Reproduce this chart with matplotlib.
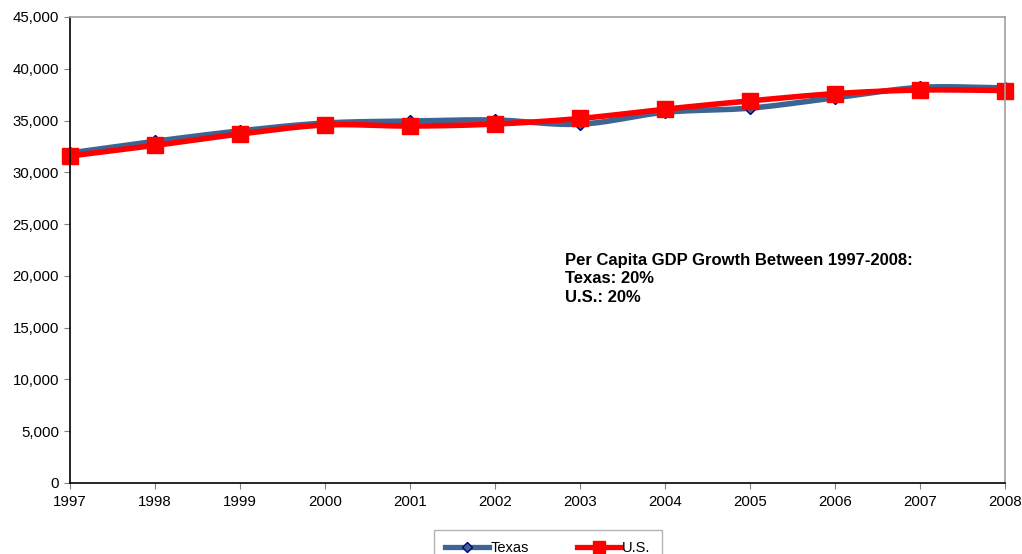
import numpy as np
import matplotlib
matplotlib.use("Agg")
import matplotlib.pyplot as plt
from matplotlib.lines import Line2D

years = [1997, 1998, 1999, 2000, 2001, 2002, 2003, 2004, 2005, 2006, 2007, 2008]
texas = [31870, 33000, 34000, 34760, 34950, 35050, 34650, 35800, 36200, 37200, 38200, 38150]
us = [31580, 32600, 33700, 34570, 34470, 34660, 35200, 36100, 36900, 37600, 37950, 37900]
y_ticks = list(range(0, 45001, 5000))
note_lines = ["Per Capita GDP Growth Between 1997-2008:", "Texas: 20%", "U.S.: 20%"]

plt.rcParams['font.family'] = ['Liberation Sans', 'DejaVu Sans']


def smooth(xs, ys, n=20):
    """Catmull-Rom curve through the points, for a smoothed line rendering."""
    x = np.asarray(xs, float)
    y = np.asarray(ys, float)
    px = np.concatenate([[2 * x[0] - x[1]], x, [2 * x[-1] - x[-2]]])
    py = np.concatenate([[2 * y[0] - y[1]], y, [2 * y[-1] - y[-2]]])
    ox, oy = [], []
    t = np.linspace(0, 1, n, endpoint=False)
    for i in range(1, len(px) - 2):
        for P, out in ((px, ox), (py, oy)):
            p0, p1, p2, p3 = P[i - 1], P[i], P[i + 1], P[i + 2]
            out.extend(0.5 * ((2 * p1) + (-p0 + p2) * t
                              + (2 * p0 - 5 * p1 + 4 * p2 - p3) * t ** 2
                              + (-p0 + 3 * p1 - 3 * p2 + p3) * t ** 3))
    ox.append(x[-1])
    oy.append(y[-1])
    return np.array(ox), np.array(oy)


W, H = 1022, 554
fig = plt.figure(figsize=(W / 100, H / 100), dpi=100)
ax = fig.add_axes([70 / W, (H - 483) / H, (1005 - 70) / W, (483 - 17) / H])

blue = '#3D6594'
red = '#FF0000'

sx, sy = smooth(years, texas)
ax.plot(sx, sy, color=blue, lw=4.0, solid_capstyle='round', zorder=2)
ax.plot(years, texas, ls='none', marker='D', ms=6, mfc=blue, mec='#00007F', mew=1, zorder=3)

ux, uy = smooth(years, us)
ax.plot(ux, uy, color=red, lw=4.0, solid_capstyle='round', zorder=4)
ax.plot(years, us, ls='none', marker='s', ms=12, mfc=red, mec=red, zorder=5)

ax.set_xlim(years[0], years[-1])
ax.set_ylim(y_ticks[0], y_ticks[-1])
ax.set_xticks(years)
ax.set_yticks(y_ticks)
ax.set_yticklabels([f"{v:,}" for v in y_ticks])
ax.tick_params(axis='both', labelsize=10.8, direction='out', length=4, width=0.8,
               color='#808080')
ax.tick_params(axis='x', pad=5)
ax.tick_params(axis='y', pad=4)

for s in ('left', 'bottom'):
    ax.spines[s].set_color('black')
    ax.spines[s].set_linewidth(1.2)
for s in ('top', 'right'):
    ax.spines[s].set_color('#A0A0A0')
    ax.spines[s].set_linewidth(1.2)
for s in ax.spines.values():
    s.set_zorder(6)
for ln in ax.lines:
    ln.set_clip_on(False)

ax.text(2003 - 0.18, 22250, "\n".join(note_lines), fontsize=12, fontweight='bold',
        va='top', ha='left', linespacing=1.3)

handles = [
    Line2D([], [], color=blue, lw=3.8, marker='D', ms=5, mfc=blue, mec='#00007F'),
    Line2D([], [], color=red, lw=3.8, marker='s', ms=8, mfc=red, mec=red),
]
leg = fig.legend(handles, ['Texas', 'U.S.'], loc='upper center',
                 bbox_to_anchor=(548 / W, (H - 530) / H), ncol=2, fontsize=10.5,
                 frameon=True, fancybox=False, edgecolor='#A0A0A0',
                 handlelength=3.0, handletextpad=0.1, columnspacing=3.3,
                 borderpad=0.75, borderaxespad=0.0)
leg.get_frame().set_linewidth(1.0)
leg.get_frame().set_boxstyle('square', pad=0.0)

fig.savefig('out.png', dpi=100)
